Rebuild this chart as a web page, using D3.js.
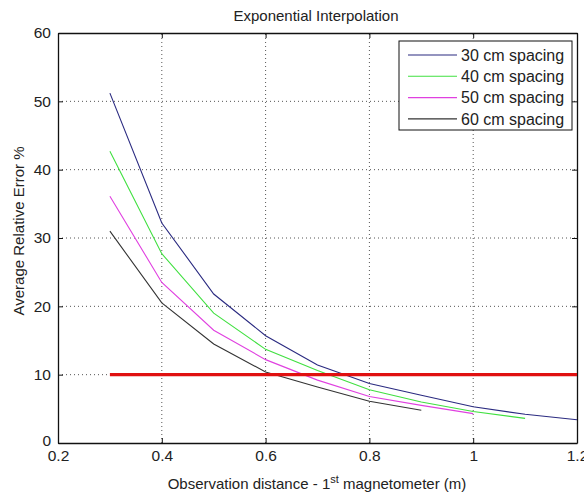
<!DOCTYPE html>
<html>
<head>
<meta charset="utf-8">
<script src="https://cdn.jsdelivr.net/npm/d3@7"></script>
<style>
  body { margin: 0; background: #fff; }
  svg { font-family: "Liberation Sans", Arial, sans-serif; }
  .grid line { stroke: #555; stroke-dasharray: 1,3; }
</style>
</head>
<body>
<div id="chart"></div>
<script>
/* ── Data ── */
const distances = [0.3, 0.4, 0.5, 0.6, 0.7, 0.8, 0.9, 1.0, 1.1, 1.2];
const spacing30 = [51.2, 32.2, 21.8, 15.7, 11.4, 8.7, 7.0, 5.3, 4.2, 3.4];
const spacing40 = [42.7, 27.7, 19.0, 13.7, 10.6, 7.8, 6.0, 4.6, 3.6];
const spacing50 = [36.1, 23.5, 16.5, 12.2, 9.2, 6.8, 5.5, 4.3];
const spacing60 = [31.0, 20.5, 14.5, 10.4, 8.2, 6.1, 4.8];
const seriesNames = ['30 cm spacing', '40 cm spacing', '50 cm spacing', '60 cm spacing'];
const thresholdY = [10, 10];
const thresholdX = [0.3, 1.2];
const xTicks = [0.2, 0.4, 0.6, 0.8, 1, 1.2];
const yTicks = [0, 10, 20, 30, 40, 50, 60];

const colors = ['#2a2a80', '#40e040', '#e040e0', '#333333'];

const W = 584, H = 495;
const M = { left: 58, right: 7, top: 33, bottom: 52 };

const svg = d3.select('#chart').append('svg')
  .attr('width', W).attr('height', H);

const x = d3.scaleLinear().domain([0.2, 1.2]).range([M.left, W - M.right]);
const y = d3.scaleLinear().domain([0, 60]).range([H - M.bottom, M.top]);

/* grid */
svg.append('g').attr('class', 'grid')
  .selectAll('line').data(xTicks.slice(1, -1)).join('line')
  .attr('x1', d => x(d)).attr('x2', d => x(d))
  .attr('y1', y(0)).attr('y2', y(60));
svg.append('g').attr('class', 'grid')
  .selectAll('line').data(yTicks.slice(1, -1)).join('line')
  .attr('x1', x(0.2)).attr('x2', x(1.2))
  .attr('y1', d => y(d)).attr('y2', d => y(d));

/* axes (MATLAB style: ticks inside, box all round) */
svg.append('g')
  .attr('transform', `translate(0,${y(0)})`)
  .call(d3.axisBottom(x).tickValues(xTicks).tickSizeInner(-5).tickSizeOuter(0).tickPadding(10).tickFormat(d3.format('')))
  .call(g => g.selectAll('text').attr('font-size', 15.5).attr('fill', '#222').attr('dy', '0.5em'));
svg.append('g')
  .attr('transform', `translate(0,${y(60)})`)
  .call(d3.axisTop(x).tickValues(xTicks).tickSizeInner(-5).tickSizeOuter(0).tickFormat(''));
svg.append('g')
  .attr('transform', `translate(${x(0.2)},0)`)
  .call(d3.axisLeft(y).tickValues(yTicks).tickSizeInner(-5).tickSizeOuter(0).tickPadding(7))
  .call(g => g.selectAll('text').attr('font-size', 15.5).attr('fill', '#222'))
  .call(g => g.selectAll('.tick').filter(d => d === 0).select('text').attr('dy', '0.15em'));
svg.append('g')
  .attr('transform', `translate(${x(1.2)},0)`)
  .call(d3.axisRight(y).tickValues(yTicks).tickSizeInner(-5).tickSizeOuter(0).tickFormat(''));
svg.selectAll('.domain').attr('stroke', '#111').attr('stroke-width', 1.3);
svg.selectAll('.tick line').attr('stroke', '#111');

/* series */
const line = d3.line().x(d => x(d[0])).y(d => y(d[1]));
const allSeries = [spacing30, spacing40, spacing50, spacing60];
allSeries.forEach((vals, i) => {
  svg.append('path')
    .datum(vals.map((v, j) => [distances[j], v]))
    .attr('fill', 'none')
    .attr('stroke', colors[i])
    .attr('stroke-width', 1.1)
    .attr('d', line);
});

/* threshold */
svg.append('path')
  .datum(thresholdX.map((v, j) => [v, thresholdY[j]]))
  .attr('fill', 'none').attr('stroke', '#e01010').attr('stroke-width', 3.2)
  .attr('d', line);

/* title and labels */
svg.append('text').attr('x', 316).attr('y', 21)
  .attr('text-anchor', 'middle').attr('font-size', 15).attr('fill', '#222')
  .text('Exponential Interpolation');

const xl = svg.append('text').attr('x', 317).attr('y', 489)
  .attr('text-anchor', 'middle').attr('font-size', 15).attr('fill', '#222');
xl.append('tspan').text('Observation distance - 1');
xl.append('tspan').attr('dy', -6).attr('font-size', 11).text('st');
xl.append('tspan').attr('dy', 6).text(' magnetometer (m)');

svg.append('text')
  .attr('transform', `translate(24,231) rotate(-90)`)
  .attr('text-anchor', 'middle').attr('font-size', 15).attr('fill', '#222')
  .text('Average Relative Error %');

/* legend */
const lg = svg.append('g').attr('transform', 'translate(399,41)');
lg.append('rect').attr('width', 173).attr('height', 89)
  .attr('fill', '#fff').attr('stroke', '#111').attr('stroke-width', 1);
seriesNames.forEach((name, i) => {
  const ry = 14 + i * 21.3;
  lg.append('line').attr('x1', 9).attr('x2', 58).attr('y1', ry).attr('y2', ry)
    .attr('stroke', colors[i]).attr('stroke-width', 1.1);
  lg.append('text').attr('x', 62).attr('y', ry).attr('dy', '0.35em')
    .attr('font-size', 16).attr('fill', '#222').text(name);
});
</script>
</body>
</html>
